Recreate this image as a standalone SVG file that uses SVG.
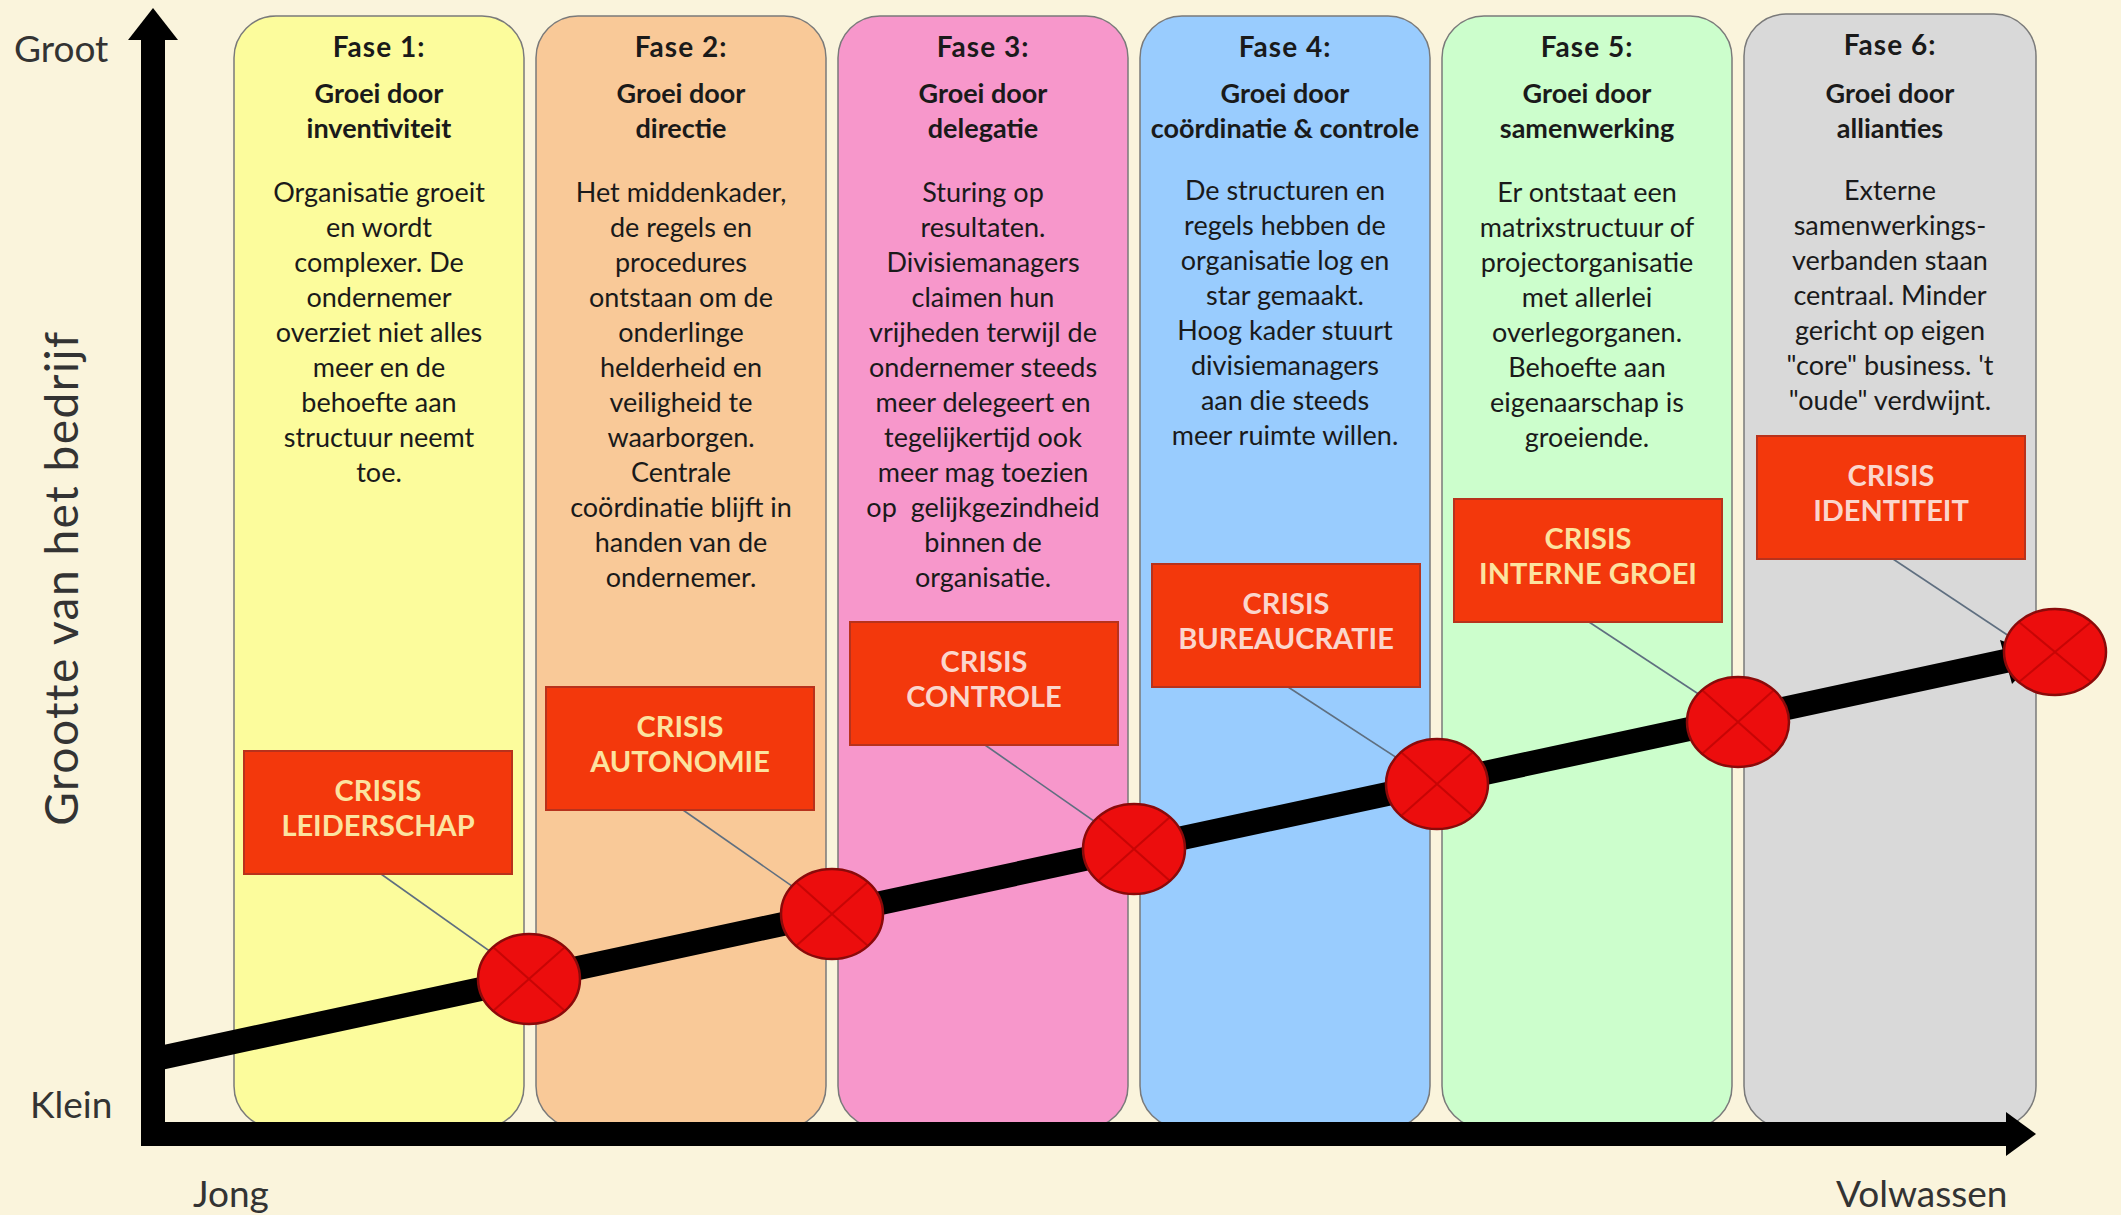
<svg xmlns="http://www.w3.org/2000/svg" width="2121" height="1215" viewBox="0 0 2121 1215">
<style>
text{font-family:Lato,"Open Sans","Liberation Sans",sans-serif;}
.fase{font-size:28px;font-weight:bold;text-anchor:middle;fill:#1a1a1a;letter-spacing:1px}
.head{font-size:27px;font-weight:bold;text-anchor:middle;fill:#1a1a1a}
.body{font-size:27px;text-anchor:middle;fill:#1a1a1a}
.crisis{font-size:29px;font-weight:bold;text-anchor:middle}
.cy{fill:#fce3a0}
.cp{fill:#fbd6cc}
.axis{font-size:37px;fill:#333}
.panel{stroke:#7a7a7a;stroke-width:1.5}
.cbox{fill:#f3380c;stroke:#b8321c;stroke-width:2}
.dot{fill:#ec0d0d;stroke:#8a0a0a;stroke-width:2.5}
.x{stroke:#b00000;stroke-width:2;opacity:0.6}
.conn{stroke:#5f6f80;stroke-width:1.6;fill:none}
</style>
<rect width="2121" height="1215" fill="#faf4dc"/>

<!-- Panels -->
<g id="fase1">
<rect class="panel" x="234" y="16" width="290" height="1112" rx="42" fill="#fcfc9c"/>
<text class="fase" x="379" y="57">Fase 1:</text>
<text class="head" x="379" y="103">Groei door</text>
<text class="head" x="379" y="138">inventiviteit</text>
<text class="body" y="202"><tspan x="379">Organisatie groeit</tspan><tspan x="379" dy="35">en wordt</tspan><tspan x="379" dy="35">complexer. De</tspan><tspan x="379" dy="35">ondernemer</tspan><tspan x="379" dy="35">overziet niet alles</tspan><tspan x="379" dy="35">meer en de</tspan><tspan x="379" dy="35">behoefte aan</tspan><tspan x="379" dy="35">structuur neemt</tspan><tspan x="379" dy="35">toe.</tspan></text>
</g>
<g id="fase2">
<rect class="panel" x="536" y="16" width="290" height="1112" rx="42" fill="#f9c998"/>
<text class="fase" x="681" y="57">Fase 2:</text>
<text class="head" x="681" y="103">Groei door</text>
<text class="head" x="681" y="138">directie</text>
<text class="body" y="202"><tspan x="681">Het middenkader,</tspan><tspan x="681" dy="35">de regels en</tspan><tspan x="681" dy="35">procedures</tspan><tspan x="681" dy="35">ontstaan om de</tspan><tspan x="681" dy="35">onderlinge</tspan><tspan x="681" dy="35">helderheid en</tspan><tspan x="681" dy="35">veiligheid te</tspan><tspan x="681" dy="35">waarborgen.</tspan><tspan x="681" dy="35">Centrale</tspan><tspan x="681" dy="35">coördinatie blijft in</tspan><tspan x="681" dy="35">handen van de</tspan><tspan x="681" dy="35">ondernemer.</tspan></text>
</g>
<g id="fase3">
<rect class="panel" x="838" y="16" width="290" height="1112" rx="42" fill="#f797cb"/>
<text class="fase" x="983" y="57">Fase 3:</text>
<text class="head" x="983" y="103">Groei door</text>
<text class="head" x="983" y="138">delegatie</text>
<text class="body" y="202" xml:space="preserve"><tspan x="983">Sturing op</tspan><tspan x="983" dy="35">resultaten.</tspan><tspan x="983" dy="35">Divisiemanagers</tspan><tspan x="983" dy="35">claimen hun</tspan><tspan x="983" dy="35">vrijheden terwijl de</tspan><tspan x="983" dy="35">ondernemer steeds</tspan><tspan x="983" dy="35">meer delegeert en</tspan><tspan x="983" dy="35">tegelijkertijd ook</tspan><tspan x="983" dy="35">meer mag toezien</tspan><tspan x="983" dy="35">op  gelijkgezindheid</tspan><tspan x="983" dy="35">binnen de</tspan><tspan x="983" dy="35">organisatie.</tspan></text>
</g>
<g id="fase4">
<rect class="panel" x="1140" y="16" width="290" height="1112" rx="42" fill="#99ccfe"/>
<text class="fase" x="1285" y="57">Fase 4:</text>
<text class="head" x="1285" y="103">Groei door</text>
<text class="head" x="1285" y="138">coördinatie &amp; controle</text>
<text class="body" y="200"><tspan x="1285">De structuren en</tspan><tspan x="1285" dy="35">regels hebben de</tspan><tspan x="1285" dy="35">organisatie log en</tspan><tspan x="1285" dy="35">star gemaakt.</tspan><tspan x="1285" dy="35">Hoog kader stuurt</tspan><tspan x="1285" dy="35">divisiemanagers</tspan><tspan x="1285" dy="35">aan die steeds</tspan><tspan x="1285" dy="35">meer ruimte willen.</tspan></text>
</g>
<g id="fase5">
<rect class="panel" x="1442" y="16" width="290" height="1112" rx="42" fill="#ccfecc"/>
<text class="fase" x="1587" y="57">Fase 5:</text>
<text class="head" x="1587" y="103">Groei door</text>
<text class="head" x="1587" y="138">samenwerking</text>
<text class="body" y="202"><tspan x="1587">Er ontstaat een</tspan><tspan x="1587" dy="35">matrixstructuur of</tspan><tspan x="1587" dy="35">projectorganisatie</tspan><tspan x="1587" dy="35">met allerlei</tspan><tspan x="1587" dy="35">overlegorganen.</tspan><tspan x="1587" dy="35">Behoefte aan</tspan><tspan x="1587" dy="35">eigenaarschap is</tspan><tspan x="1587" dy="35">groeiende.</tspan></text>
</g>
<g id="fase6">
<rect class="panel" x="1744" y="14" width="292" height="1114" rx="42" fill="#d9d9d9"/>
<text class="fase" x="1890" y="55">Fase 6:</text>
<text class="head" x="1890" y="103">Groei door</text>
<text class="head" x="1890" y="138">allianties</text>
<text class="body" y="200"><tspan x="1890">Externe</tspan><tspan x="1890" dy="35">samenwerkings-</tspan><tspan x="1890" dy="35">verbanden staan</tspan><tspan x="1890" dy="35">centraal. Minder</tspan><tspan x="1890" dy="35">gericht op eigen</tspan><tspan x="1890" dy="35">"core" business. 't</tspan><tspan x="1890" dy="35">"oude" verdwijnt.</tspan></text>
</g>

<!-- Axes -->
<g id="axes">
<rect x="141" y="34" width="24" height="1112" fill="#000"/>
<polygon points="153,8 128,40 178,40" fill="#000"/>
<rect x="141" y="1122" width="1872" height="24" fill="#000"/>
<polygon points="2036,1134 2006,1112 2006,1156" fill="#000"/>
<text class="axis" x="14" y="62">Groot</text>
<text class="axis" x="30" y="1118">Klein</text>
<text class="axis" x="193" y="1207">Jong</text>
<text class="axis" x="1836" y="1207">Volwassen</text>
<text class="axis" transform="translate(78,578) rotate(-90)" text-anchor="middle" style="font-size:46px;letter-spacing:1.5px">Grootte van het bedrijf</text>
</g>

<!-- Growth line -->
<g id="growth">
<line x1="160" y1="1058" x2="2010" y2="660" stroke="#000" stroke-width="24"/>
<polygon points="2040,654 2000,640 2012,684" fill="#000"/>
</g>

<!-- Connectors -->
<g id="connectors">
<line class="conn" x1="381" y1="874" x2="529" y2="979"/>
<line class="conn" x1="683" y1="810" x2="832" y2="914"/>
<line class="conn" x1="985" y1="745" x2="1134" y2="849"/>
<line class="conn" x1="1288" y1="687" x2="1437" y2="784"/>
<line class="conn" x1="1589" y1="622" x2="1738" y2="720"/>
<line class="conn" x1="1893" y1="559" x2="2030" y2="650"/>
</g>

<!-- Crisis boxes -->
<g id="crisis1"><rect class="cbox" x="244" y="751" width="268" height="123"/><text class="crisis cy" x="378" y="801">CRISIS</text><text class="crisis cy" x="378" y="836">LEIDERSCHAP</text></g>
<g id="crisis2"><rect class="cbox" x="546" y="687" width="268" height="123"/><text class="crisis cy" x="680" y="737">CRISIS</text><text class="crisis cy" x="680" y="772">AUTONOMIE</text></g>
<g id="crisis3"><rect class="cbox" x="850" y="622" width="268" height="123"/><text class="crisis cp" x="984" y="672">CRISIS</text><text class="crisis cp" x="984" y="707">CONTROLE</text></g>
<g id="crisis4"><rect class="cbox" x="1152" y="564" width="268" height="123"/><text class="crisis cp" x="1286" y="614">CRISIS</text><text class="crisis cp" x="1286" y="649">BUREAUCRATIE</text></g>
<g id="crisis5"><rect class="cbox" x="1454" y="499" width="268" height="123"/><text class="crisis cy" x="1588" y="549">CRISIS</text><text class="crisis cy" x="1588" y="584">INTERNE GROEI</text></g>
<g id="crisis6"><rect class="cbox" x="1757" y="436" width="268" height="123"/><text class="crisis cp" x="1891" y="486">CRISIS</text><text class="crisis cp" x="1891" y="521">IDENTITEIT</text></g>

<!-- Crisis points -->
<g id="point1"><ellipse class="dot" cx="529" cy="979" rx="51" ry="45"/><path class="x" d="M493,947 L565,1011 M493,1011 L565,947"/></g>
<g id="point2"><ellipse class="dot" cx="832" cy="914" rx="51" ry="45"/><path class="x" d="M796,882 L868,946 M796,946 L868,882"/></g>
<g id="point3"><ellipse class="dot" cx="1134" cy="849" rx="51" ry="45"/><path class="x" d="M1098,817 L1170,881 M1098,881 L1170,817"/></g>
<g id="point4"><ellipse class="dot" cx="1437" cy="784" rx="51" ry="45"/><path class="x" d="M1401,752 L1473,816 M1401,816 L1473,752"/></g>
<g id="point5"><ellipse class="dot" cx="1738" cy="722" rx="51" ry="45"/><path class="x" d="M1702,690 L1774,754 M1702,754 L1774,690"/></g>
<g id="point6"><ellipse class="dot" cx="2055" cy="652" rx="51" ry="43"/><path class="x" d="M2019,622 L2091,682 M2019,682 L2091,622"/></g>
</svg>
